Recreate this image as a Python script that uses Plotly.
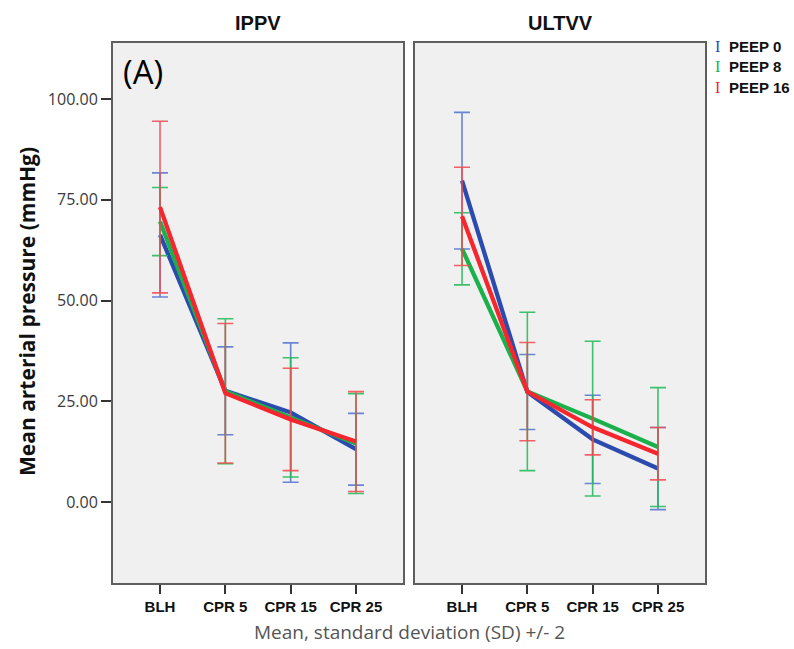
import plotly.graph_objects as go

categories = ["BLH", "CPR 5", "CPR 15", "CPR 25"]
series_names = ["PEEP 0", "PEEP 8", "PEEP 16"]

ippv_mean_peep0 = [66.3, 27.6, 22.2, 13.1]
ippv_sd2_peep0 = [15.4, 10.9, 17.3, 8.9]
ippv_mean_peep8 = [69.6, 27.5, 21.0, 14.5]
ippv_sd2_peep8 = [8.45, 18.0, 14.8, 12.4]
ippv_mean_peep16 = [73.2, 27.0, 20.5, 15.0]
ippv_sd2_peep16 = [21.3, 17.3, 12.7, 12.4]

ultvv_mean_peep0 = [79.75, 27.3, 15.55, 8.3]
ultvv_sd2_peep0 = [16.95, 9.3, 10.95, 10.2]
ultvv_mean_peep8 = [62.85, 27.45, 20.7, 13.65]
ultvv_sd2_peep8 = [8.95, 19.65, 19.2, 14.75]
ultvv_mean_peep16 = [70.9, 27.4, 18.55, 12.0]
ultvv_sd2_peep16 = [12.2, 12.2, 6.85, 6.5]

y_tick_values = [0, 25, 50, 75, 100]

line_colors = ["#2b4cae", "#1bb04c", "#f5262e"]
bar_colors = ["rgba(70,105,205,0.8)", "rgba(30,185,85,0.85)", "rgba(245,70,75,0.85)"]

W, H = 794, 649

fig = go.Figure()

panels = [
    ("x", "y", [ippv_mean_peep0, ippv_mean_peep8, ippv_mean_peep16],
     [ippv_sd2_peep0, ippv_sd2_peep8, ippv_sd2_peep16]),
    ("x2", "y2", [ultvv_mean_peep0, ultvv_mean_peep8, ultvv_mean_peep16],
     [ultvv_sd2_peep0, ultvv_sd2_peep8, ultvv_sd2_peep16]),
]

for xa, ya, means, sds in panels:
    for i, name in enumerate(series_names):
        fig.add_trace(go.Scatter(
            x=categories, y=means[i], name=name, mode="lines",
            xaxis=xa, yaxis=ya, showlegend=False,
            line=dict(color=line_colors[i], width=4.3),
            error_y=dict(type="data", array=sds[i], visible=True,
                         color=bar_colors[i], thickness=1.6, width=8),
        ))

frame = dict(showline=True, mirror=True, linecolor="#5e5e5e", linewidth=2,
             showgrid=False, zeroline=False)

xr = [-0.72, 3.72]
yr = [-20.1, 114.0]

def px_x(a, b):
    return [a / W, b / W]

def px_y(top, bottom):
    return [1 - bottom / H, 1 - top / H]

tickfont_x = dict(family="Liberation Sans, Arial", size=15, color="#111111", weight="bold")

fig.update_layout(
    width=W, height=H,
    margin=dict(l=0, r=0, t=0, b=0),
    paper_bgcolor="white",
    plot_bgcolor="#f0f0f0",
    showlegend=False,
    xaxis=dict(domain=px_x(113, 403), range=xr, anchor="y", ticks="outside",
               ticklen=9, tickwidth=2, tickcolor="#333", tickfont=tickfont_x,
               automargin=False, **frame),
    xaxis2=dict(domain=px_x(415, 705), range=xr, anchor="y2", ticks="outside",
                ticklen=9, tickwidth=2, tickcolor="#333", tickfont=tickfont_x,
                automargin=False, **frame),
    yaxis=dict(domain=px_y(42.7, 583), range=yr, anchor="x", ticks="outside",
               ticklen=10, tickwidth=2, tickcolor="#333",
               tickvals=y_tick_values, tickformat=".2f",
               tickfont=dict(family="Open Sans", size=16, color="#3a3a3a"),
               automargin=False, **frame),
    yaxis2=dict(domain=px_y(42.7, 583), range=yr, anchor="x2",
                showticklabels=False, ticks="", automargin=False, **frame),
)

annotations = [
    dict(text="IPPV", x=258 / W, y=1 - 22.5 / H, xref="paper", yref="paper",
         showarrow=False, xanchor="center", yanchor="middle",
         font=dict(family="Liberation Sans, Arial", size=20, color="#111", weight="bold")),
    dict(text="ULTVV", x=560 / W, y=1 - 22.5 / H, xref="paper", yref="paper",
         showarrow=False, xanchor="center", yanchor="middle",
         font=dict(family="Liberation Sans, Arial", size=20, color="#111", weight="bold")),
    dict(text="(A)", x=121 / W, y=1 - 72 / H, xref="paper", yref="paper",
         showarrow=False, xanchor="left", yanchor="middle",
         font=dict(family="Open Sans", size=33, color="#000")),
    dict(text="Mean arterial pressure (mmHg)", x=27 / W, y=1 - 312 / H,
         xref="paper", yref="paper", showarrow=False, textangle=-90,
         xanchor="center", yanchor="middle",
         font=dict(family="Open Sans", size=21, color="#111", weight="bold")),
    dict(text="Mean, standard deviation (SD) +/- 2", x=409 / W, y=1 - 632 / H,
         xref="paper", yref="paper", showarrow=False,
         xanchor="center", yanchor="middle",
         font=dict(family="Open Sans", size=19, color="#555")),
]

legend_rows = [46, 67, 88]
for i, name in enumerate(series_names):
    annotations.append(dict(text="I", x=717 / W, y=1 - legend_rows[i] / H,
                            xref="paper", yref="paper", showarrow=False,
                            xanchor="center", yanchor="middle",
                            font=dict(family="Liberation Serif", size=16, color=line_colors[i])))
    annotations.append(dict(text=name, x=727 / W, y=1 - legend_rows[i] / H,
                            xref="paper", yref="paper", showarrow=False,
                            xanchor="left", yanchor="middle",
                            font=dict(family="Liberation Sans, Arial", size=15,
                                      color="#111", weight="bold")))

fig.update_layout(annotations=annotations)

fig.write_html(
    "out.html",
    config={"displayModeBar": False},
    post_script="document.body.style.margin='0';document.body.style.overflow='hidden';",
)
